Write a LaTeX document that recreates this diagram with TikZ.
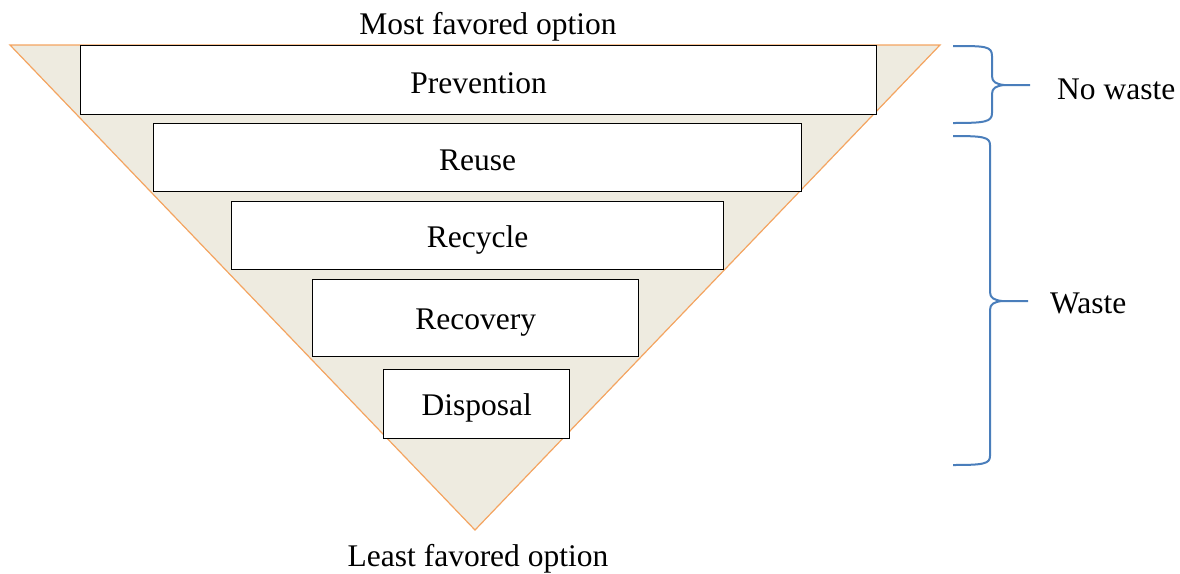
\documentclass[tikz,border=0pt]{standalone}
\usepackage{fontspec}
\setmainfont{Liberation Serif}
\definecolor{tan}{HTML}{EEEBE0}
\definecolor{orng}{HTML}{F4A460}
\definecolor{bblue}{HTML}{4A7EBB}
\tikzset{
  level/.style={draw=black, line width=1.3pt, fill=white, anchor=north west, inner sep=0pt},
  lbl/.style={font=\fontsize{31.5}{36}\selectfont, inner sep=0pt},
  brace/.style={draw=bblue, line width=2pt}
}
\begin{document}
\begin{tikzpicture}[x=1pt,y=-1pt]
\useasboundingbox (0,0) rectangle (1180,573);
\draw[fill=tan, draw=orng, line width=1.2pt] (10,45) -- (940,45) -- (475,530) -- cycle;
\node[level, minimum width=796pt, minimum height=69pt] (prev) at (80,45) {};
\node[lbl] at ([yshift=-3pt]prev.center) {Prevention};
\node[level, minimum width=648pt, minimum height=68pt] (reuse) at (153,123) {};
\node[lbl] at ([yshift=-3pt]reuse.center) {Reuse};
\node[level, minimum width=492pt, minimum height=68pt] (recy) at (231,201) {};
\node[lbl] at ([yshift=-4pt]recy.center) {Recycle};
\node[level, minimum width=326pt, minimum height=77pt] (reco) at (312,279) {};
\node[lbl] at ([yshift=-4pt]reco.center) {Recovery};
\node[level, minimum width=186pt, minimum height=69pt] (disp) at (383,369) {};
\node[lbl] at ([yshift=-4pt]disp.center) {Disposal};
\node[lbl] (top) at (488,27) {Most favored option};
\node[lbl] (bot) at (478,559) {Least favored option};
\draw[brace] (953,46) .. controls (985,46) and (992,46) .. (992,56) -- (992,76)
  .. controls (992,82) and (996,84) .. (1004,85) -- (1030,85);
\draw[brace] (1004,85) .. controls (996,86) and (992,88) .. (992,94) -- (992,113)
  .. controls (992,122) and (985,123) .. (953,123);
\draw[brace] (953,136) .. controls (983,136) and (990,137) .. (990,145) -- (990,292)
  .. controls (990,298) and (994,300) .. (1002,301) -- (1028,301);
\draw[brace] (1002,301) .. controls (994,302) and (990,304) .. (990,310) -- (990,456)
  .. controls (990,464) and (983,465) .. (953,465);
\node[lbl, anchor=west] (nw) at (1057,89) {No waste};
\node[lbl, anchor=west] (w) at (1050,303) {Waste};
\end{tikzpicture}
\end{document}
